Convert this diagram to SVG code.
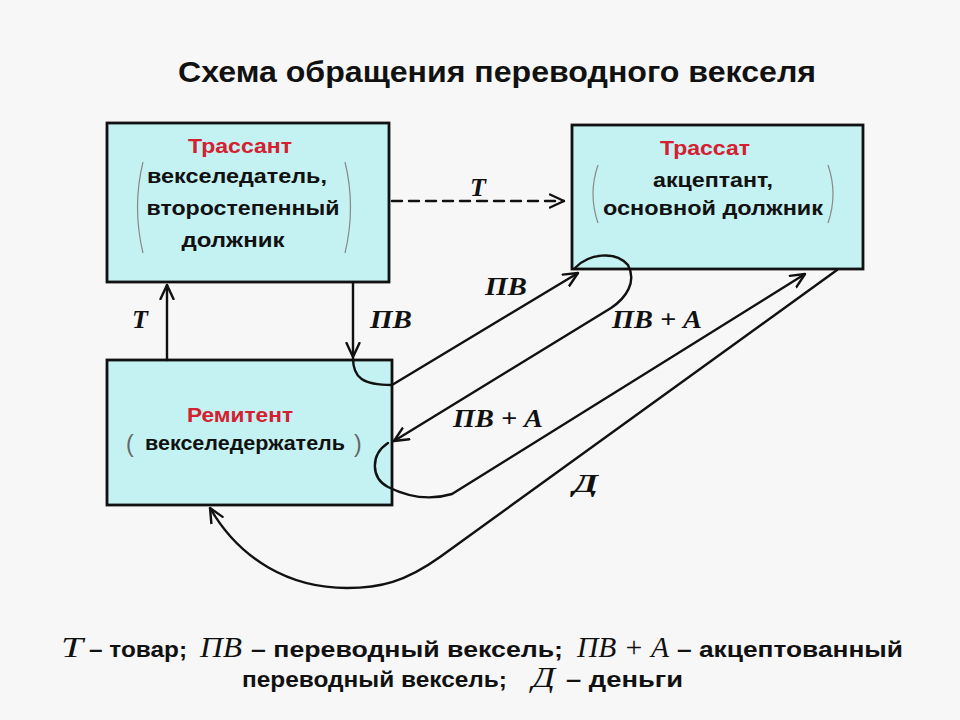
<svg xmlns="http://www.w3.org/2000/svg" width="960" height="720" viewBox="0 0 960 720">
<style>
.box{fill:#c4f1f1;stroke:#111;stroke-width:2.8}
.t{font-family:"Liberation Sans",Arial,sans-serif;font-weight:bold;font-size:21px;fill:#111;text-anchor:middle}
.red{fill:#d42030}
.par{fill:none;stroke:#888;stroke-width:1.2}
.ptxt{font-family:"Liberation Sans",Arial,sans-serif;font-size:23px;fill:#666}
.lab{font-family:"Liberation Serif","Times New Roman",serif;font-weight:bold;font-style:italic;font-size:26px;fill:#111}
.leg{font-family:"Liberation Sans",Arial,sans-serif;font-weight:bold;font-size:22px;fill:#111}
.sym{font-family:"Liberation Serif","Times New Roman",serif;font-style:italic;font-size:30px;fill:#111}
.ln{fill:none;stroke:#111;stroke-width:2.4;stroke-linecap:round;stroke-linejoin:round}
</style>
<defs>
<marker id="arr" viewBox="0 0 16 16" refX="15" refY="8" markerWidth="16" markerHeight="16" markerUnits="userSpaceOnUse" orient="auto">
<path d="M1,1.5 L15,8 L1,14.5" fill="none" stroke="#111" stroke-width="2.4" stroke-linecap="round" stroke-linejoin="round"/>
</marker>
</defs>
<rect width="960" height="720" fill="#f7f7f7"/>
<text x="497" y="82" font-family="Liberation Sans,Arial,sans-serif" font-weight="bold" font-size="30" fill="#111" text-anchor="middle" textLength="638" lengthAdjust="spacingAndGlyphs">Схема обращения переводного векселя</text>

<g id="trassant">
<rect class="box" x="107" y="123" width="282" height="159"/>
<text class="t red" x="240" y="153" textLength="104" lengthAdjust="spacingAndGlyphs">Трассант</text>
<text class="t" x="237" y="183" textLength="180" lengthAdjust="spacingAndGlyphs">векселедатель,</text>
<text class="t" x="243" y="215" textLength="193" lengthAdjust="spacingAndGlyphs">второстепенный</text>
<text class="t" x="233" y="247" textLength="103" lengthAdjust="spacingAndGlyphs">должник</text>
<path class="par" d="M143,162 Q132,207 143,253"/>
<path class="par" d="M345,162 Q356,207 345,253"/>
</g>

<g id="trassat">
<rect class="box" x="572" y="125" width="291" height="144"/>
<text class="t red" x="705" y="155" textLength="90" lengthAdjust="spacingAndGlyphs">Трассат</text>
<text class="t" x="713" y="187" textLength="120" lengthAdjust="spacingAndGlyphs">акцептант,</text>
<text class="t" x="713" y="215" textLength="220" lengthAdjust="spacingAndGlyphs">основной должник</text>
<path class="par" d="M598,165 Q588,194 598,223"/>
<path class="par" d="M828,165 Q838,194 828,223"/>
</g>

<g id="remitent">
<rect class="box" x="107" y="360" width="285" height="145"/>
<text class="t red" x="240" y="422" textLength="106" lengthAdjust="spacingAndGlyphs">Ремитент</text>
<text class="t" x="245" y="450" textLength="200" lengthAdjust="spacingAndGlyphs">векселедержатель</text>
<text class="ptxt" x="126" y="452">(</text>
<text class="ptxt" x="354" y="452">)</text>
</g>

<g id="connectors">
<path class="ln" d="M392,201 L564,201" stroke-dasharray="10,7" marker-end="url(#arr)"/>
<path class="ln" d="M167,360 L167,285" marker-end="url(#arr)"/>
<path class="ln" d="M353,283 L353,357" marker-end="url(#arr)"/>
<path class="ln" d="M353,358 C353,378 363,385 392,385 L578,273" marker-end="url(#arr)"/>
<path class="ln" d="M575,268 C588,254 615,250 628,265 C637,282 626,298 611,308 L394,441" marker-end="url(#arr)"/>
<path class="ln" d="M388,443 C370,455 371,478 388,487 C410,498 432,500 452,494 L805,274" marker-end="url(#arr)"/>
<path class="ln" d="M837,270 L440,557 C405,582 380,588 347,588 C290,588 240,560 210,508" marker-end="url(#arr)"/>
<text class="lab" x="478" y="196" text-anchor="middle">Т</text>
<text class="lab" x="140" y="328" text-anchor="middle">Т</text>
<text class="lab" x="370" y="328" textLength="42" lengthAdjust="spacingAndGlyphs">ПВ</text>
<text class="lab" x="485" y="295" textLength="42" lengthAdjust="spacingAndGlyphs">ПВ</text>
<text class="lab" x="612" y="328" textLength="90" lengthAdjust="spacingAndGlyphs">ПВ + А</text>
<text class="lab" x="453" y="427" textLength="90" lengthAdjust="spacingAndGlyphs">ПВ + А</text>
<text class="lab" x="573" y="492" textLength="25" lengthAdjust="spacingAndGlyphs">Д</text>
</g>

<g id="legend">
<text class="sym" x="61" y="657" textLength="22" lengthAdjust="spacingAndGlyphs">Т</text>
<text class="leg" x="89" y="657" textLength="98" lengthAdjust="spacingAndGlyphs">– товар;</text>
<text class="sym" x="200" y="657" textLength="42" lengthAdjust="spacingAndGlyphs">ПВ</text>
<text class="leg" x="251" y="657" textLength="312" lengthAdjust="spacingAndGlyphs">– переводный вексель;</text>
<text class="sym" x="577" y="657" textLength="92" lengthAdjust="spacingAndGlyphs">ПВ + А</text>
<text class="leg" x="677" y="657" textLength="226" lengthAdjust="spacingAndGlyphs">– акцептованный</text>
<text class="leg" x="242" y="687" textLength="265" lengthAdjust="spacingAndGlyphs">переводный вексель;</text>
<text class="sym" x="532" y="687" textLength="23" lengthAdjust="spacingAndGlyphs">Д</text>
<text class="leg" x="566" y="687" textLength="117" lengthAdjust="spacingAndGlyphs">– деньги</text>
</g>
</svg>
